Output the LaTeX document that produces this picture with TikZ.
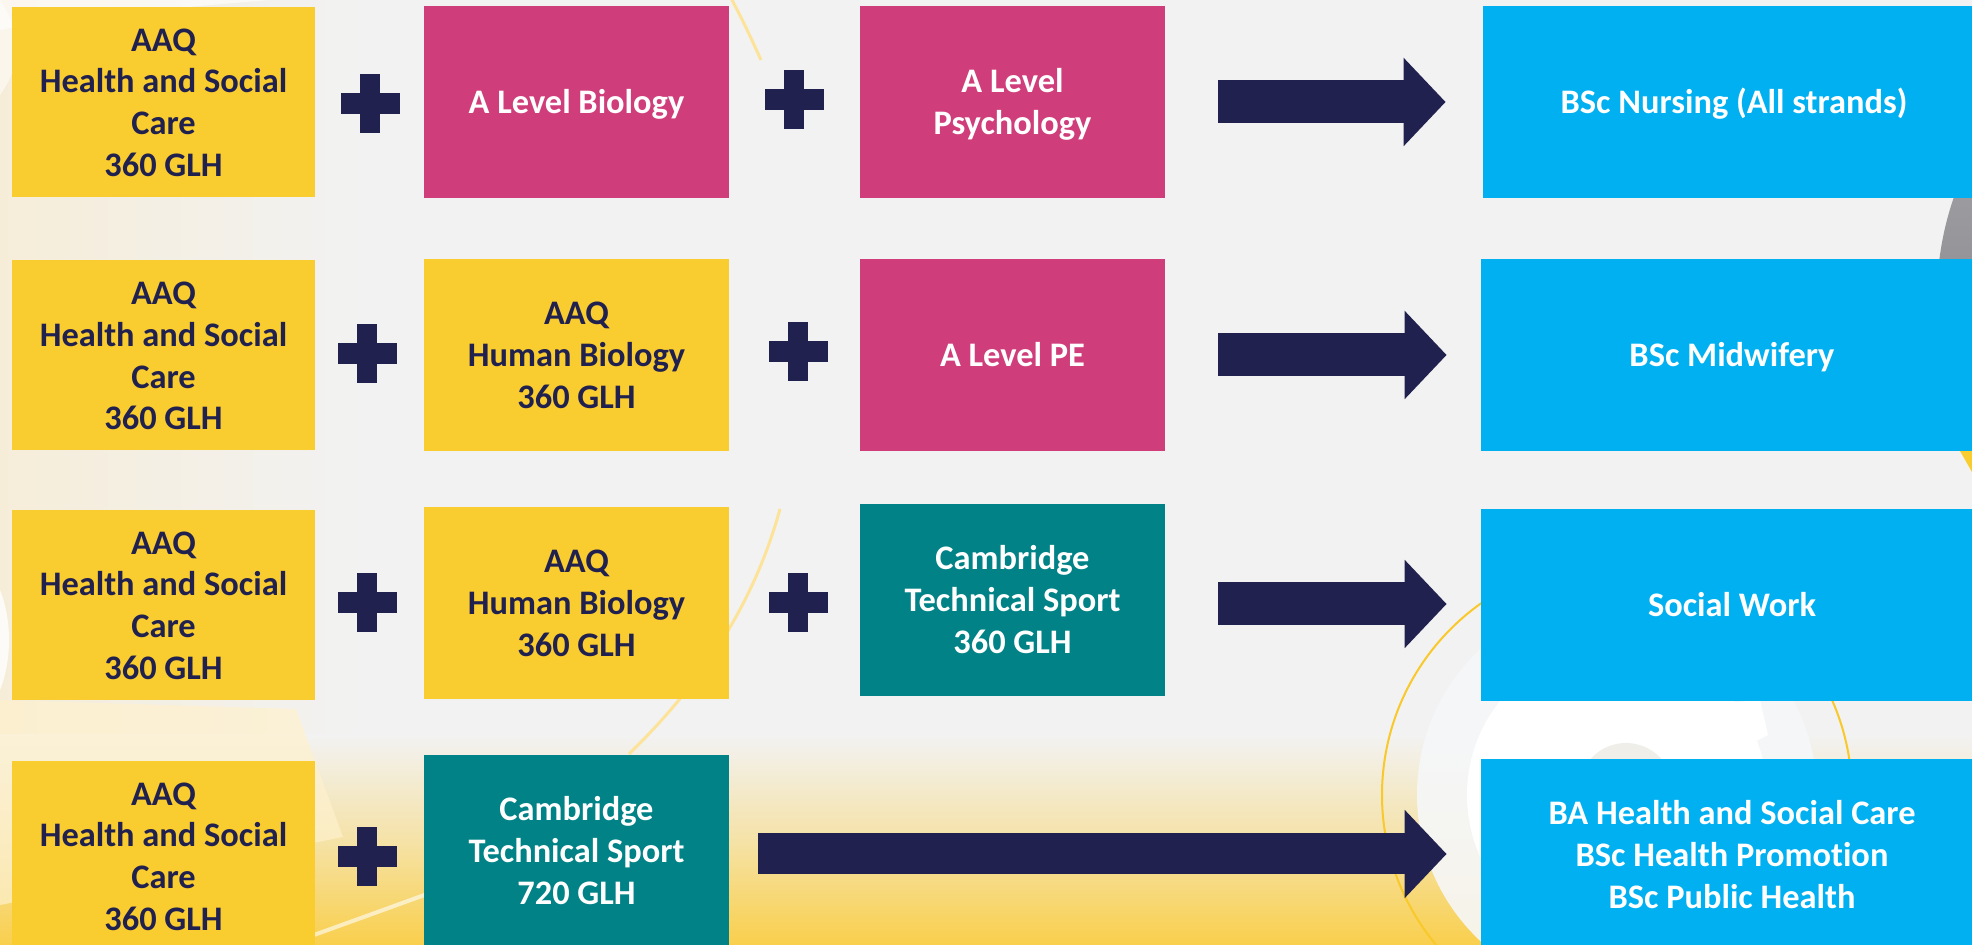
\documentclass[tikz,border=0pt]{standalone}
\usepackage{fontspec}
\setmainfont{Carlito}[Ligatures={NoCommon,NoContextual}]
\usetikzlibrary{arrows.meta,calc}
\definecolor{bgGrey}{HTML}{F2F2F2}
\definecolor{cYel}{HTML}{F9CC2F}
\definecolor{cPink}{HTML}{CF3E7B}
\definecolor{cTeal}{HTML}{008286}
\definecolor{cBlue}{HTML}{00B0F0}
\definecolor{cNavy}{HTML}{212150}
\definecolor{cCream}{HTML}{F6EDD9}
\definecolor{cGold}{HTML}{F9CF4C}
\definecolor{cPaleY}{HTML}{FDE39A}
\definecolor{cGreyA}{HTML}{B0B0B5}
\definecolor{cGreyB}{HTML}{707075}
\definecolor{cRing}{HTML}{F6F7F9}
\definecolor{cHole}{HTML}{F0EEE9}
\definecolor{cYelLine}{HTML}{F9C82A}
\newcommand\topstrut{\rule{0pt}{0.95em}}
\newcommand\botstrut{\rule[-0.27em]{0pt}{0.27em}}
\tikzset{
  card/.style={rectangle, inner sep=0pt, align=center, font=\bfseries\fontsize{17.2}{20.85}\selectfont},
  yelcard/.style={card, fill=cYel, text=cNavy},
  pinkcard/.style={card, fill=cPink, text=white},
  tealcard/.style={card, fill=cTeal, text=white},
  bluecard/.style={card, fill=cBlue, text=white},
  stdsize/.style={minimum width=151.5pt, minimum height=95pt},
  midsize/.style={minimum width=152.5pt, minimum height=96pt},
  widesize/.style={minimum width=251pt, minimum height=96pt},
  bigarrow/.style={draw=cNavy, line width=21.5pt, -{Triangle[length=21pt,width=43pt]}},
  plussign/.pic={\fill[cNavy] (-29.5,-10.5) rectangle (29.5,10.5); \fill[cNavy] (-10,-29.5) rectangle (10,29.5);}
}
\begin{document}
\begin{tikzpicture}[x=0.5pt,y=-0.5pt]
\useasboundingbox (0,0) rectangle (1972,945);
\begin{scope}
\clip (0,0) rectangle (1972,945);
\fill[bgGrey] (0,0) rectangle (1972,945);
\shade[left color=cCream, right color=bgGrey] (0,0) rectangle (360,760);
\fill[white, opacity=.6] (0,0) -- (270,0) .. controls (150,10) and (60,18) .. (0,30) -- cycle;
\fill[white, opacity=.5] (0,0) .. controls (20,30) and (25,60) .. (0,95) -- cycle;
\shade[top color=bgGrey, bottom color=cGold, middle color=cGold!45!bgGrey] (0,735) rectangle (1972,945);
\fill[cPaleY!50!white, opacity=.7] (0,700) -- (296,709) -- (343,837) -- (0,905) -- cycle;
\fill[white, opacity=.8] (0,590) .. controls (12,620) and (12,660) .. (0,690) -- cycle;
\draw[cPaleY, line width=1.5pt] (731,-2) .. controls (745,25) .. (761,60);
\draw[cPaleY, line width=1.5pt] (780,509) .. controls (755,600) and (705,680) .. (629,754);
\draw[white, opacity=.6, line width=2pt] (300,940) .. controls (350,922) .. (430,893);
\shade[top color=cGreyA, bottom color=cGreyB] (2245,298) circle[radius=308];
\fill[cRing, opacity=.9] (1617,795) circle[radius=200];
\fill[white] (1617,795) circle[radius=150];
\fill[white] (1700,705) -- (1760,700) -- (1768,735) -- (1700,770) -- cycle;
\fill[cHole] (1626,790) circle[radius=47];
\draw[cYelLine, line width=1pt] (1617,795) circle[radius=235];
\fill[cYel] (1960,451) -- (1972,451) -- (1972,472) -- cycle;
\end{scope}
% row 1
\node[yelcard, stdsize] (hsc1) at (163.5,102) {\topstrut AAQ\\Health and Social\\Care\\360 GLH\botstrut};
\node[pinkcard, midsize] (bio1) at (576.5,102) {\topstrut A Level Biology\botstrut};
\node[pinkcard, midsize] (psy1) at (1012.5,102) {\topstrut A Level\\Psychology\botstrut};
\node[bluecard, widesize] (nurse) at (1734,102) {\topstrut BSc Nursing (All strands)\botstrut};
% row 2
\node[yelcard, stdsize] (hsc2) at (163.5,355.5) {\topstrut AAQ\\Health and Social\\Care\\360 GLH\botstrut};
\node[yelcard, midsize] (hb2) at (576.5,355) {\topstrut AAQ\\Human Biology\\360 GLH\botstrut};
\node[pinkcard, midsize] (pe2) at (1012.5,355) {\topstrut A Level PE\botstrut};
\node[bluecard, widesize] (midw) at (1732,355) {\topstrut BSc Midwifery\botstrut};
% row 3
\node[yelcard, stdsize] (hsc3) at (163.5,605) {\topstrut AAQ\\Health and Social\\Care\\360 GLH\botstrut};
\node[yelcard, midsize] (hb3) at (576.5,603) {\topstrut AAQ\\Human Biology\\360 GLH\botstrut};
\node[tealcard, midsize] (cts3) at (1012.5,600) {\topstrut Cambridge\\Technical Sport\\360 GLH\botstrut};
\node[bluecard, widesize] (sw3) at (1732,605) {\topstrut Social Work\botstrut};
% row 4
\node[yelcard, stdsize] (hsc4) at (163.5,856) {\topstrut AAQ\\Health and Social\\Care\\360 GLH\botstrut};
\node[tealcard, midsize] (cts4) at (576.5,851) {\topstrut Cambridge\\Technical Sport\\720 GLH\botstrut};
\node[bluecard, widesize] (bah4) at (1732,855) {\topstrut BA Health and Social Care\\BSc Health Promotion\\BSc Public Health\botstrut};
% plus signs
\pic at (370,104) {plussign};
\pic at (794,100) {plussign};
\pic at (367,354) {plussign};
\pic at (798,352) {plussign};
\pic at (367,603) {plussign};
\pic at (798,603) {plussign};
\pic at (367,857) {plussign};
% arrows
\draw[bigarrow] ($(psy1.east)+(53,0)$) -- ($(nurse.west)+(-37,0)$);
\draw[bigarrow] ($(pe2.east)+(53,0)$) -- ($(midw.west)+(-34,0)$);
\draw[bigarrow] ($(cts3.east)+(53,4)$) -- ($(sw3.west)+(-34,-1)$);
\draw[bigarrow, line width=20.5pt] ($(cts4.east)+(29,3)$) -- ($(bah4.west)+(-34,-1)$);
\end{tikzpicture}
\end{document}
